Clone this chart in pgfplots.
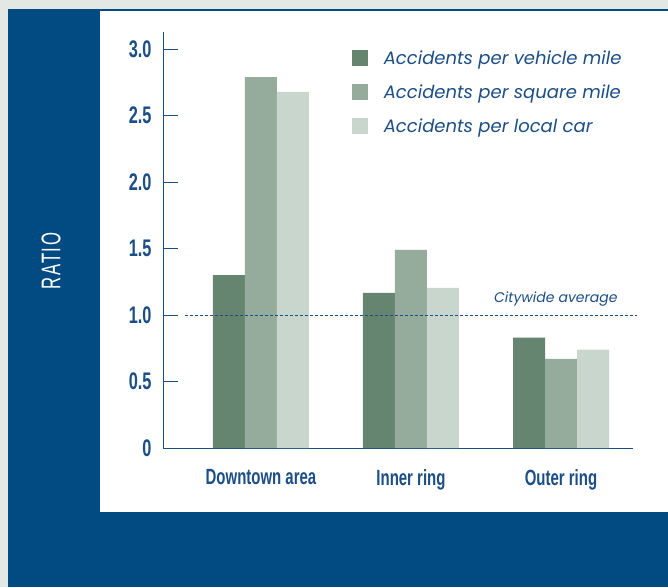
\documentclass[border=0pt]{standalone}
\usepackage{pgfplots}
\pgfplotsset{compat=1.18}
\usepackage{fontspec}
\setmainfont{Liberation Sans}
\newfontfamily\condfont[FakeStretch=0.68]{Liberation Sans}
\newfontfamily\ratiofont[FakeStretch=0.62,LetterSpace=6]{Liberation Sans}
\newfontfamily\legfont{Poppins}
\definecolor{bgblue}{HTML}{014B82}
\definecolor{txtblue}{HTML}{1B4E86}
\definecolor{gray0}{HTML}{E3E8E4}
\definecolor{c1}{HTML}{658571}
\definecolor{c2}{HTML}{95AB9B}
\definecolor{c3}{HTML}{C9D6CD}
\begin{document}
\begin{tikzpicture}[x=1pt,y=1pt]
\fill[gray0] (0,0) rectangle (668,587);
\fill[bgblue] (8,0) rectangle (668,578);
\fill[white] (100,75) rectangle (668,576);
\useasboundingbox (0,0) rectangle (668,587);
\node[rotate=90, white, font=\ratiofont\fontsize{27}{27}\selectfont] at (51,326) {RATIO};
\begin{axis}[
  at={(163pt,139pt)}, anchor=south west,
  scale only axis, width=470pt, height=416pt,
  xmin=-0.653, xmax=2.48, ymin=0, ymax=3.13,
  clip=false,
  axis x line*=bottom, axis y line*=left,
  axis line style={-, txtblue, line width=0.8pt},
  xtick={0,1,2},
  xticklabels={Downtown area, Inner ring, Outer ring},
  major x tick style={draw=none},
  x tick label style={font=\condfont\bfseries\fontsize{22}{22}\selectfont, text=txtblue, yshift=-18pt},
  ytick={0,0.5,1,1.5,2,2.5,3},
  yticklabels={0,0.5,1.0,1.5,2.0,2.5,3.0},
  y tick label style={font=\condfont\bfseries\fontsize{24}{24}\selectfont, text=txtblue, xshift=-8pt},
  /pgf/number format/assume math mode=true,
  ytick align=inside, major tick length=15pt,
  major y tick style={txtblue, line width=0.8pt},
  legend style={at={(rel axis cs:0.395,0.966)}, anchor=north west, draw=none, fill=none,
     font=\legfont\itshape\fontsize{18}{18}\selectfont, text=txtblue,
     row sep=15pt, /tikz/every odd column/.append style={column sep=14pt}},
  legend cell align=left,
  legend image code/.code={\fill[#1,draw=none] (0pt,-8pt) rectangle (16pt,8pt);},
]
\addplot[ybar, bar width=32pt, bar shift=-32pt, fill=c1, draw=none] coordinates {(0,1.30) (1,1.168) (2,0.83)};
\addplot[ybar, bar width=32pt, bar shift=0pt, fill=c2, draw=none] coordinates {(0,2.79) (1,1.49) (2,0.67)};
\addplot[ybar, bar width=32pt, bar shift=32pt, fill=c3, draw=none] coordinates {(0,2.68) (1,1.205) (2,0.74)};
\legend{Accidents per vehicle mile, Accidents per square mile, Accidents per local car}
\addplot[txtblue, dash pattern=on 3pt off 2pt, line width=0.7pt, forget plot] coordinates {(-0.507,1) (2.507,1)};
\node[anchor=base east, text=txtblue, font=\legfont\itshape\fontsize{14}{14}\selectfont] at (axis cs:2.40,1) [yshift=13pt] {Citywide average};
\end{axis}
\end{tikzpicture}
\end{document}
